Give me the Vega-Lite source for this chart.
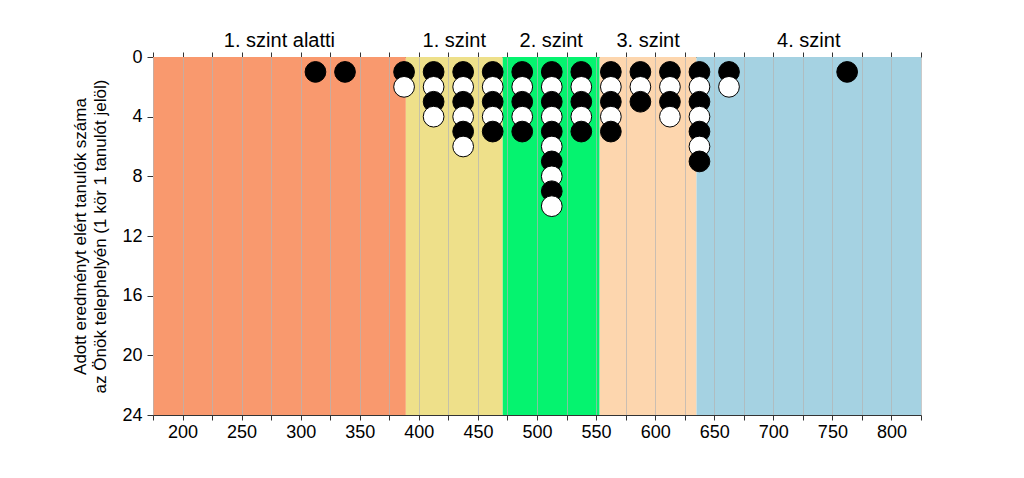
{
  "$schema": "https://vega.github.io/schema/vega-lite/v6.json",
  "width": 768,
  "height": 358,
  "autosize": {"type": "none"},
  "padding": {"left": 153, "top": 57, "right": 103, "bottom": 63},
  "background": "white",
  "config": {
    "view": {"stroke": null},
    "font": "Liberation Sans",
    "text": {"font": "Liberation Sans"}
  },
  "datasets": {
    "bands": [
      {"level": "1. szint alatti", "from": 175, "to": 389, "mid": 282},
      {"level": "1. szint", "from": 389, "to": 471, "mid": 430},
      {"level": "2. szint", "from": 471, "to": 553, "mid": 512},
      {"level": "3. szint", "from": 553, "to": 635, "mid": 594},
      {"level": "4. szint", "from": 635, "to": 825, "mid": 730}
    ],
    "students": [
      {"score": 312.5, "n": 1},
      {"score": 337.5, "n": 1},
      {"score": 387.5, "n": 1},
      {"score": 412.5, "n": 1},
      {"score": 437.5, "n": 1},
      {"score": 462.5, "n": 1},
      {"score": 487.5, "n": 1},
      {"score": 512.5, "n": 1},
      {"score": 537.5, "n": 1},
      {"score": 562.5, "n": 1},
      {"score": 587.5, "n": 1},
      {"score": 612.5, "n": 1},
      {"score": 637.5, "n": 1},
      {"score": 662.5, "n": 1},
      {"score": 762.5, "n": 1},
      {"score": 387.5, "n": 2},
      {"score": 412.5, "n": 2},
      {"score": 437.5, "n": 2},
      {"score": 462.5, "n": 2},
      {"score": 487.5, "n": 2},
      {"score": 512.5, "n": 2},
      {"score": 537.5, "n": 2},
      {"score": 562.5, "n": 2},
      {"score": 587.5, "n": 2},
      {"score": 612.5, "n": 2},
      {"score": 637.5, "n": 2},
      {"score": 662.5, "n": 2},
      {"score": 412.5, "n": 3},
      {"score": 437.5, "n": 3},
      {"score": 462.5, "n": 3},
      {"score": 487.5, "n": 3},
      {"score": 512.5, "n": 3},
      {"score": 537.5, "n": 3},
      {"score": 562.5, "n": 3},
      {"score": 587.5, "n": 3},
      {"score": 612.5, "n": 3},
      {"score": 637.5, "n": 3},
      {"score": 412.5, "n": 4},
      {"score": 437.5, "n": 4},
      {"score": 462.5, "n": 4},
      {"score": 487.5, "n": 4},
      {"score": 512.5, "n": 4},
      {"score": 537.5, "n": 4},
      {"score": 562.5, "n": 4},
      {"score": 612.5, "n": 4},
      {"score": 637.5, "n": 4},
      {"score": 437.5, "n": 5},
      {"score": 462.5, "n": 5},
      {"score": 487.5, "n": 5},
      {"score": 512.5, "n": 5},
      {"score": 537.5, "n": 5},
      {"score": 562.5, "n": 5},
      {"score": 637.5, "n": 5},
      {"score": 437.5, "n": 6},
      {"score": 512.5, "n": 6},
      {"score": 637.5, "n": 6},
      {"score": 512.5, "n": 7},
      {"score": 637.5, "n": 7},
      {"score": 512.5, "n": 8},
      {"score": 512.5, "n": 9},
      {"score": 512.5, "n": 10}
    ]
  },
  "layer": [
    {
      "data": {"name": "bands"},
      "mark": {"type": "rect"},
      "encoding": {
        "x": {
          "field": "from",
          "type": "quantitative",
          "scale": {"domain": [175, 825], "nice": false, "zero": false},
          "axis": {
            "orient": "bottom",
            "values": [175, 200, 225, 250, 275, 300, 325, 350, 375, 400, 425, 450, 475, 500, 525, 550, 575, 600, 625, 650, 675, 700, 725, 750, 775, 800, 825],
            "labelExpr": "datum.value % 50 === 0 ? datum.label : ''",
            "labelOverlap": false,
            "labelBound": false,
            "labelFlush": false,
            "grid": true,
            "gridColor": "#b4b4b4",
            "gridOpacity": 0.7,
            "zindex": 1,
            "domainColor": "#333333",
            "tickColor": "#333333",
            "tickSize": 5,
            "labelFontSize": 18,
            "labelColor": "black",
            "labelPadding": 3,
            "title": null
          }
        },
        "x2": {"field": "to"},
        "fill": {
          "field": "level",
          "type": "nominal",
          "scale": {
            "domain": ["1. szint alatti", "1. szint", "2. szint", "3. szint", "4. szint"],
            "range": ["#F9996E", "#EEE08A", "#05F36F", "#FDD6AE", "#A5D2E2"]
          },
          "legend": null
        }
      }
    },
    {
      "data": {"name": "bands"},
      "mark": {"type": "text", "fontSize": 20, "baseline": "alphabetic", "align": "center", "dy": -10, "color": "black"},
      "encoding": {
        "x": {
          "field": "mid",
          "type": "quantitative",
          "axis": {
            "orient": "top",
            "values": [175, 200, 225, 250, 275, 300, 325, 350, 375, 400, 425, 450, 475, 500, 525, 550, 575, 600, 625, 650, 675, 700, 725, 750, 775, 800, 825],
            "labels": false,
            "grid": false,
            "domainColor": "#333333",
            "tickColor": "#333333",
            "tickSize": 5,
            "title": null
          }
        },
        "y": {"datum": 0, "type": "quantitative", "axis": null},
        "text": {"field": "level"}
      }
    },
    {
      "data": {"name": "students"},
      "mark": {"type": "point", "shape": "circle", "filled": true, "size": 430, "stroke": "black", "strokeWidth": 1, "opacity": 1, "fillOpacity": 1, "strokeOpacity": 1},
      "encoding": {
        "x": {"field": "score", "type": "quantitative", "axis": null},
        "y": {
          "field": "n",
          "type": "quantitative",
          "scale": {"domain": [0, 24], "reverse": true, "nice": false, "zero": true},
          "axis": {
            "orient": "left",
            "values": [0, 4, 8, 12, 16, 20, 24],
            "grid": false,
            "tickSize": 6,
            "labelFontSize": 18,
            "labelPadding": 5,
            "labelColor": "black",
            "domainColor": "#333333",
            "tickColor": "#333333",
            "title": ["Adott eredményt elért tanulók száma", "az Önök telephelyén (1 kör 1 tanulót jelöl)"],
            "titleFontSize": 17,
            "titleFontWeight": "normal",
            "titleColor": "black",
            "titleLineHeight": 20,
            "titlePadding": 12
          }
        },
        "fill": {"condition": {"test": "datum.n % 2 === 0", "value": "white"}, "value": "black"}
      }
    }
  ],
  "resolve": {"axis": {"x": "independent", "y": "independent"}}
}
